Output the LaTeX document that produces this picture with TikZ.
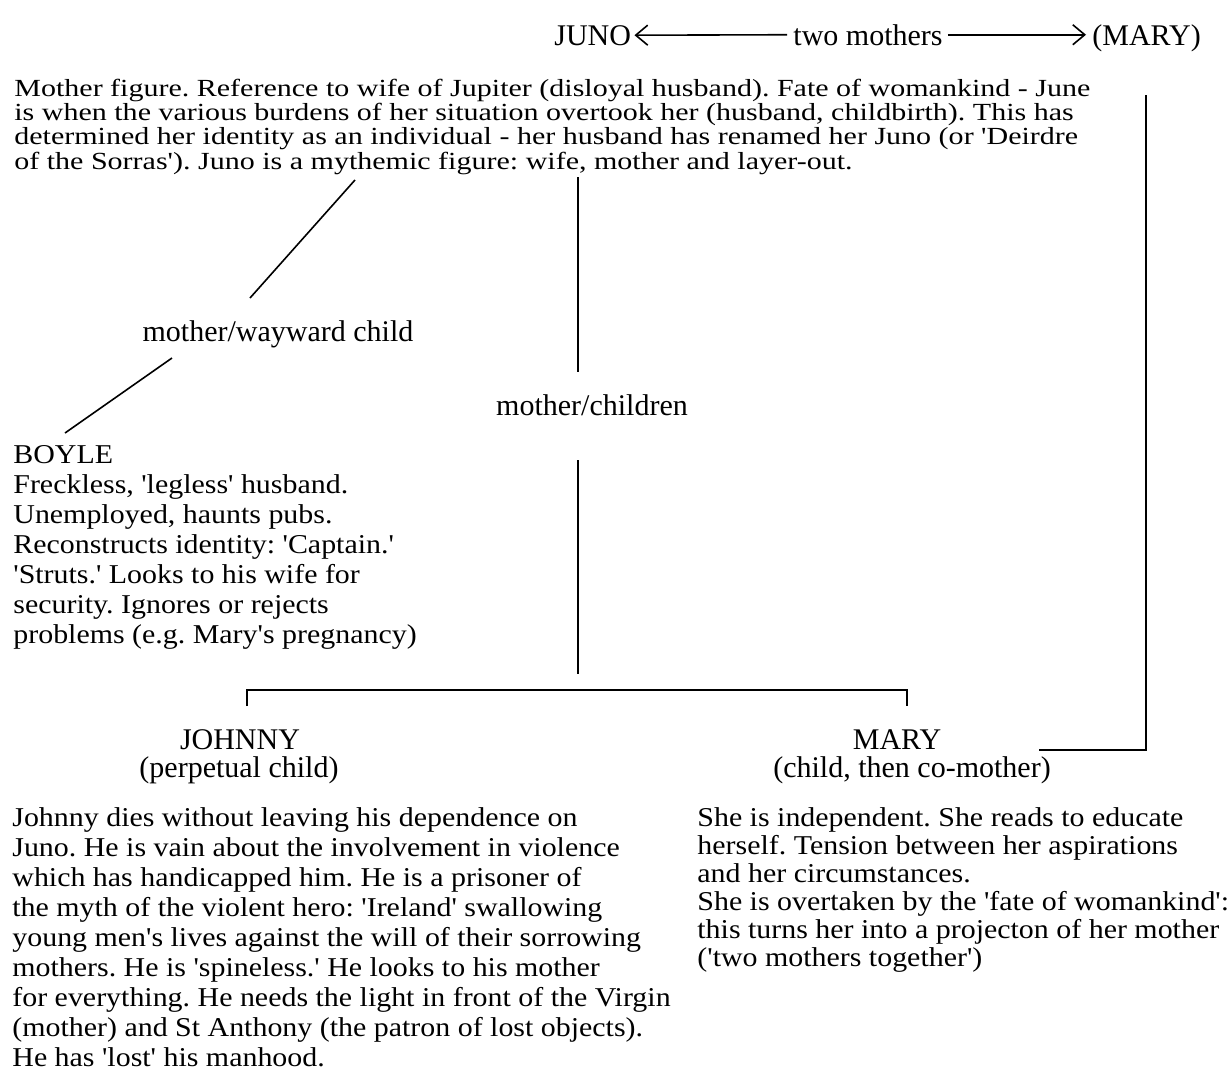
\documentclass[tikz,border=0pt]{standalone}
\usepackage{fontspec}
\usepackage{tikz}
\usetikzlibrary{arrows.meta}
\newfontfamily\plainfont{Liberation Serif}
\newfontfamily\flatfont[FakeStretch=1.22]{Liberation Serif}
\newfontfamily\bodyfont[FakeStretch=1.1]{Liberation Serif}
\frenchspacing

\tikzset{
	label text/.style={inner sep=0pt, anchor=base, font=\plainfont\fontsize{15}{15}\selectfont},
	body text/.style={inner sep=0pt, anchor=base west, align=left, font=\bodyfont\fontsize{13.6}{15}\selectfont},
	barb/.style={-{Straight Barb[length=6pt,width=10pt]}},
	link/.style={line width=0.8pt}
}

\begin{document}
\begin{tikzpicture}[x=0.5pt, y=-0.5pt]
	
	% Page size
	\useasboundingbox (0,0) rectangle (1229,1076);
	
	% Title row
	\node[label text, anchor=base west] (juno) at (554,45) {JUNO};
	\node[label text, anchor=base west] (two) at (793,45) {two mothers};
	\node[label text, anchor=base west] (marytop) at (1092,45) {(MARY)};
	\coordinate (maryend) at (two.east -| marytop.west);
	\draw[link, barb] ([xshift=-3pt]two.west) -- ([xshift=1.5pt]juno.east);
	\draw[link, barb] ([xshift=2.5pt]two.east) -- ([xshift=-3pt]maryend);
	
	% Juno (base is the last line)
	\node[body text, font=\flatfont\fontsize{12.3}{12.1}\selectfont] (junotext) at (14,169) {Mother figure. Reference to wife of Jupiter (disloyal husband). Fate of womankind - June\\
		is when the various burdens of her situation overtook her (husband, childbirth). This has\\
		determined her identity as an individual - her husband has renamed her Juno (or 'Deirdre\\
		of the Sorras'). Juno is a mythemic figure: wife, mother and layer-out.};
	
	% Label links
	\node[label text] (wayward) at (278,341) {mother/wayward child};
	\node[label text] (children) at (592,415) {mother/children};
	
	% Boyle
	\node[body text] (boyle) at (13,643) {BOYLE\\
		Freckless, 'legless' husband.\\
		Unemployed, haunts pubs.\\
		Reconstructs identity: 'Captain.'\\
		'Struts.' Looks to his wife for\\
		security. Ignores or rejects\\
		problems (e.g. Mary's pregnancy)};
	
	% Children
	\node[label text] (johnny) at (240,749) {JOHNNY};
	\node[label text] (johnnysub) at (239,777) {(perpetual child)};
	\node[label text] (mary) at (897,749) {MARY};
	\node[label text] (marysub) at (912,777) {(child, then co-mother)};
	
	\node[body text] (johnnytext) at (12,1066) {Johnny dies without leaving his dependence on\\
		Juno. He is vain about the involvement in violence\\
		which has handicapped him. He is a prisoner of\\
		the myth of the violent hero: 'Ireland' swallowing\\
		young men's lives against the will of their sorrowing\\
		mothers. He is 'spineless.' He looks to his mother\\
		for everything. He needs the light in front of the Virgin\\
		(mother) and St Anthony (the patron of lost objects).\\
		He has 'lost' his manhood.};
	\node[body text, font=\bodyfont\fontsize{13.6}{14}\selectfont] (marytext) at (697,966) {She is independent. She reads to educate\\
		herself. Tension between her aspirations\\
		and her circumstances.\\
		She is overtaken by the 'fate of womankind':\\
		this turns her into a projecton of her mother\\
		('two mothers together')};
	
	% Juno to Boyle
	\coordinate (wayA) at (355,180);
	\coordinate (wayB) at (250,298);
	\coordinate (wayC) at (172,358);
	\coordinate (wayD) at (65,433);
	\draw[link] (wayA) -- (wayB);
	\draw[link] (wayC) -- (wayD);
	
	% Juno to children
	\coordinate (stemA) at (578,177);
	\coordinate (stemB) at (578,372);
	\coordinate (stemC) at (578,460);
	\coordinate (stemD) at (578,674);
	\draw[link] (stemA) -- (stemB);
	\draw[link] (stemC) -- (stemD);
	
	% Fork
	\coordinate (forkL) at (247,706);
	\coordinate (forkR) at (907,706);
	\draw[link] (forkL) -- ++(0,-16) -| (forkR);
	
	% Mary to (MARY)
	\coordinate (backA) at (1146,95);
	\coordinate (backB) at (1039,750);
	\draw[link] (backA) |- (backB);
	
\end{tikzpicture}
\end{document}
